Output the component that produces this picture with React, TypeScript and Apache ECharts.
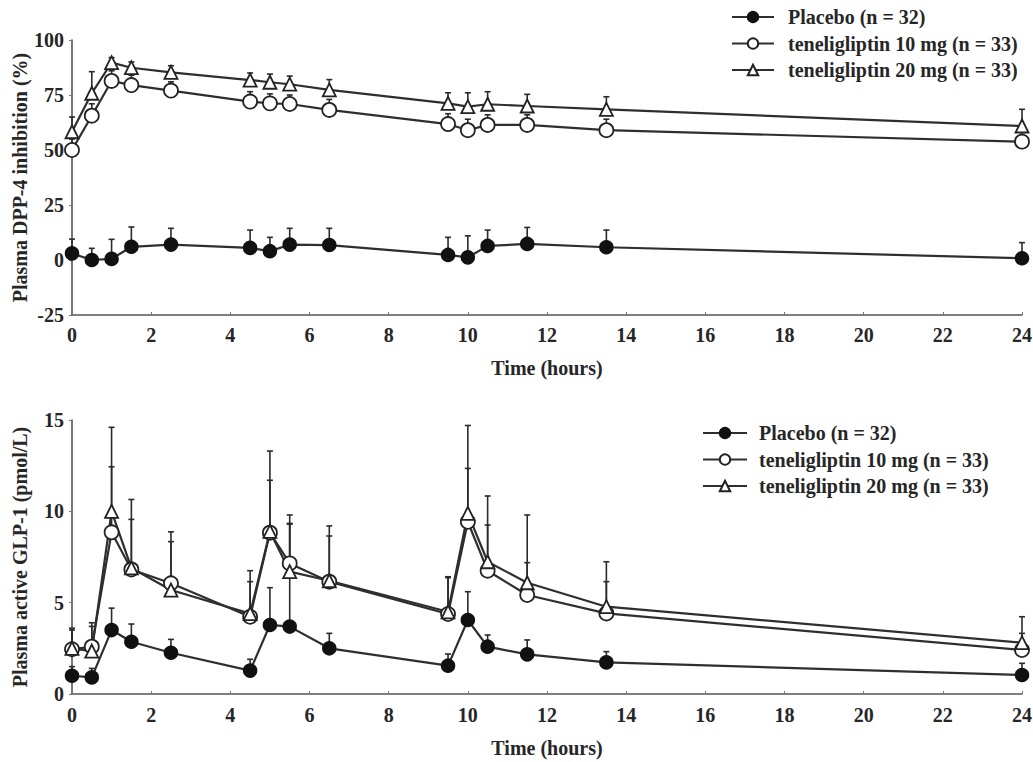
import React, { useEffect, useRef } from "react";
import * as echarts from "echarts";

const times = [0, 0.5, 1, 1.5, 2.5, 4.5, 5, 5.5, 6.5, 9.5, 10, 10.5, 11.5, 13.5, 24];
const xTicks = [0, 2, 4, 6, 8, 10, 12, 14, 16, 18, 20, 22, 24];
const seriesNames = ["Placebo (n = 32)", "teneligliptin 10 mg (n = 33)", "teneligliptin 20 mg (n = 33)"];

// Plasma DPP-4 inhibition (%) – mean and upper error-bar end
const placeboDpp = [3, 0, 0.5, 6, 7, 5.5, 4, 7, 6.8, 2.3, 1.2, 6.4, 7.3, 5.8, 0.8];
const placeboDppErr = [9.5, 5.3, 9.4, 15, 14.4, 13.6, 10.3, 14.4, 14.4, 10.3, 11, 13.6, 14.8, 13.6, 7.9];
const teneli10Dpp = [50, 65.6, 81.4, 79.5, 77, 72, 71.2, 70.9, 68.2, 61.8, 59, 61.4, 61.4, 59, 53.8];
const teneli10DppErr = [55, 71, 86, 84, 81, 76.5, 75.5, 75, 73, 66.5, 64, 66, 66, 64, 58];
const teneli20Dpp = [58.3, 75.8, 89.7, 87.4, 85.3, 81.8, 80.8, 79.9, 77.3, 71.2, 69.7, 70.8, 70, 68.5, 60.9];
const teneli20DppErr = [65, 85.6, 92, 90, 88.3, 85, 84.5, 83.6, 82, 76, 76, 76.5, 75.3, 74.2, 68.5];

// Plasma active GLP-1 (pmol/L) – mean and upper error-bar end
const placeboGlp = [1.0, 0.91, 3.5, 2.86, 2.26, 1.28, 3.78, 3.69, 2.5, 1.55, 4.05, 2.59, 2.17, 1.73, 1.04];
const placeboGlpErr = [1.5, 1.4, 4.7, 3.83, 2.99, 1.9, 5.82, 9.3, 3.32, 2.19, 5.6, 3.23, 2.96, 2.32, 1.68];
const teneli10Glp = [2.45, 2.59, 8.85, 6.82, 6.06, 4.23, 8.83, 7.15, 6.15, 4.38, 9.43, 6.75, 5.42, 4.41, 2.41];
const teneli10GlpErr = [3.6, 3.9, 12.44, 9.56, 8.34, 6.15, 11.7, 9.8, 8.65, 6.37, 12.35, 9.25, 7.19, 6.15, 3.32];
const teneli20Glp = [2.5, 2.35, 10.0, 6.9, 5.69, 4.4, 8.9, 6.7, 6.2, 4.5, 9.89, 7.24, 6.09, 4.78, 2.81];
const teneli20GlpErr = [3.5, 3.7, 14.6, 10.65, 8.88, 6.75, 13.3, 9.34, 9.2, 6.42, 14.7, 10.84, 9.8, 7.24, 4.23];

const FONT = "Liberation Serif";
const INK = "#262626";
const LINE = "#2e2e2e";
const FS = 20;

const markerStyles = [
  { symbol: "circle", size: 13, itemStyle: { color: "#111", borderColor: "#111", borderWidth: 1.5 } },
  { symbol: "circle", size: 14, itemStyle: { color: "#fff", borderColor: "#222", borderWidth: 1.8 } },
  { symbol: "triangle", size: 13, itemStyle: { color: "#fff", borderColor: "#222", borderWidth: 1.8 } },
];

function lineSeries(idx: number, values: number[], axis: number) {
  const m = markerStyles[idx];
  return {
    type: "line",
    name: seriesNames[idx],
    xAxisIndex: axis,
    yAxisIndex: axis,
    data: times.map((t, i) => [t, values[i]]),
    symbol: m.symbol,
    symbolSize: m.size,
    showAllSymbol: true,
    itemStyle: m.itemStyle,
    lineStyle: { color: LINE, width: 2.2 },
    z: 3,
  };
}

function errSeries(idx: number, values: number[], errs: number[], axis: number) {
  return {
    type: "custom",
    name: "err-" + axis + "-" + idx,
    xAxisIndex: axis,
    yAxisIndex: axis,
    z: 1,
    silent: true,
    encode: { x: 0, y: [1, 2] },
    data: times.map((t, i) => [t, values[i], errs[i]]),
    renderItem: (params: any, api: any) => {
      const x = api.value(0);
      const p0 = api.coord([x, api.value(1)]);
      const p1 = api.coord([x, api.value(2)]);
      const st = { stroke: "#2a2a2a", lineWidth: 1.6 };
      return {
        type: "group",
        children: [
          { type: "line", shape: { x1: p0[0], y1: p0[1], x2: p1[0], y2: p1[1] }, style: st },
          { type: "line", shape: { x1: p1[0] - 3, y1: p1[1], x2: p1[0] + 3, y2: p1[1] }, style: st },
        ],
      };
    },
  };
}

function xAxis(gridIndex: number, margin: number, nameGap: number) {
  return {
    type: "value",
    gridIndex,
    min: 0,
    max: 24,
    interval: 2,
    name: "Time (hours)",
    nameLocation: "middle",
    nameGap,
    nameMoveOverlap: false,
    nameTextStyle: { fontFamily: FONT, fontSize: FS, fontWeight: "bold", color: INK },
    axisLine: { onZero: false, lineStyle: { color: "#555", width: 1.6 } },
    axisTick: { inside: true, length: 3, lineStyle: { color: "#777" } },
    axisLabel: {
      fontFamily: FONT,
      fontSize: FS,
      fontWeight: "bold",
      color: INK,
      margin,
      formatter: (v: number) => (xTicks.includes(v) ? String(v) : ""),
    },
    splitLine: { show: false },
  };
}

function yAxis(gridIndex: number, min: number, max: number, interval: number, name: string) {
  return {
    type: "value",
    gridIndex,
    min,
    max,
    interval,
    name,
    nameLocation: "middle",
    nameGap: 42,
    nameMoveOverlap: false,
    nameTextStyle: { fontFamily: FONT, fontSize: FS, fontWeight: "bold", color: INK },
    axisLine: { show: true, onZero: false, lineStyle: { color: "#555", width: 1.6 } },
    axisTick: { show: true, length: 3, lineStyle: { color: "#777" } },
    axisLabel: { fontFamily: FONT, fontSize: FS, fontWeight: "bold", color: INK, margin: 8 },
    splitLine: { show: false },
  };
}

function legend(left: number, top: number, itemWidth: number, pad: number) {
  return {
    orient: "vertical",
    left,
    top,
    itemWidth,
    itemHeight: 13,
    itemGap: 6.5,
    selectedMode: false,
    data: seriesNames,
    textStyle: { fontFamily: FONT, fontSize: FS, fontWeight: "bold", color: INK, padding: [0, 0, 0, pad] },
  };
}

export default function App() {
  const ref = useRef<HTMLDivElement>(null);
  useEffect(() => {
    if (!ref.current) return;
    const chart = echarts.init(ref.current, undefined, { renderer: "svg" });
    chart.setOption({
      animation: false,
      backgroundColor: "#fff",
      grid: [
        { left: 72, top: 40, width: 950, height: 275, containLabel: false, outerBoundsMode: "none" },
        { left: 72, top: 420, width: 950, height: 274, containLabel: false, outerBoundsMode: "none" },
      ],
      legend: [legend(726, 2, 42, 9), legend(697, 418, 44, 7)],
      xAxis: [xAxis(0, 10, 43), xAxis(1, 11, 44)],
      yAxis: [
        yAxis(0, -25, 100, 25, "Plasma DPP-4 inhibition (%)"),
        yAxis(1, 0, 15, 5, "Plasma active GLP-1 (pmol/L)"),
      ],
      series: [
        errSeries(0, placeboDpp, placeboDppErr, 0),
        errSeries(1, teneli10Dpp, teneli10DppErr, 0),
        errSeries(2, teneli20Dpp, teneli20DppErr, 0),
        lineSeries(0, placeboDpp, 0),
        lineSeries(1, teneli10Dpp, 0),
        lineSeries(2, teneli20Dpp, 0),
        errSeries(0, placeboGlp, placeboGlpErr, 1),
        errSeries(1, teneli10Glp, teneli10GlpErr, 1),
        errSeries(2, teneli20Glp, teneli20GlpErr, 1),
        lineSeries(0, placeboGlp, 1),
        lineSeries(1, teneli10Glp, 1),
        lineSeries(2, teneli20Glp, 1),
      ],
    });
    return () => chart.dispose();
  }, []);
  return <div ref={ref} style={{ position: "fixed", left: 0, top: 0, width: 1033, height: 762 }} />;
}
